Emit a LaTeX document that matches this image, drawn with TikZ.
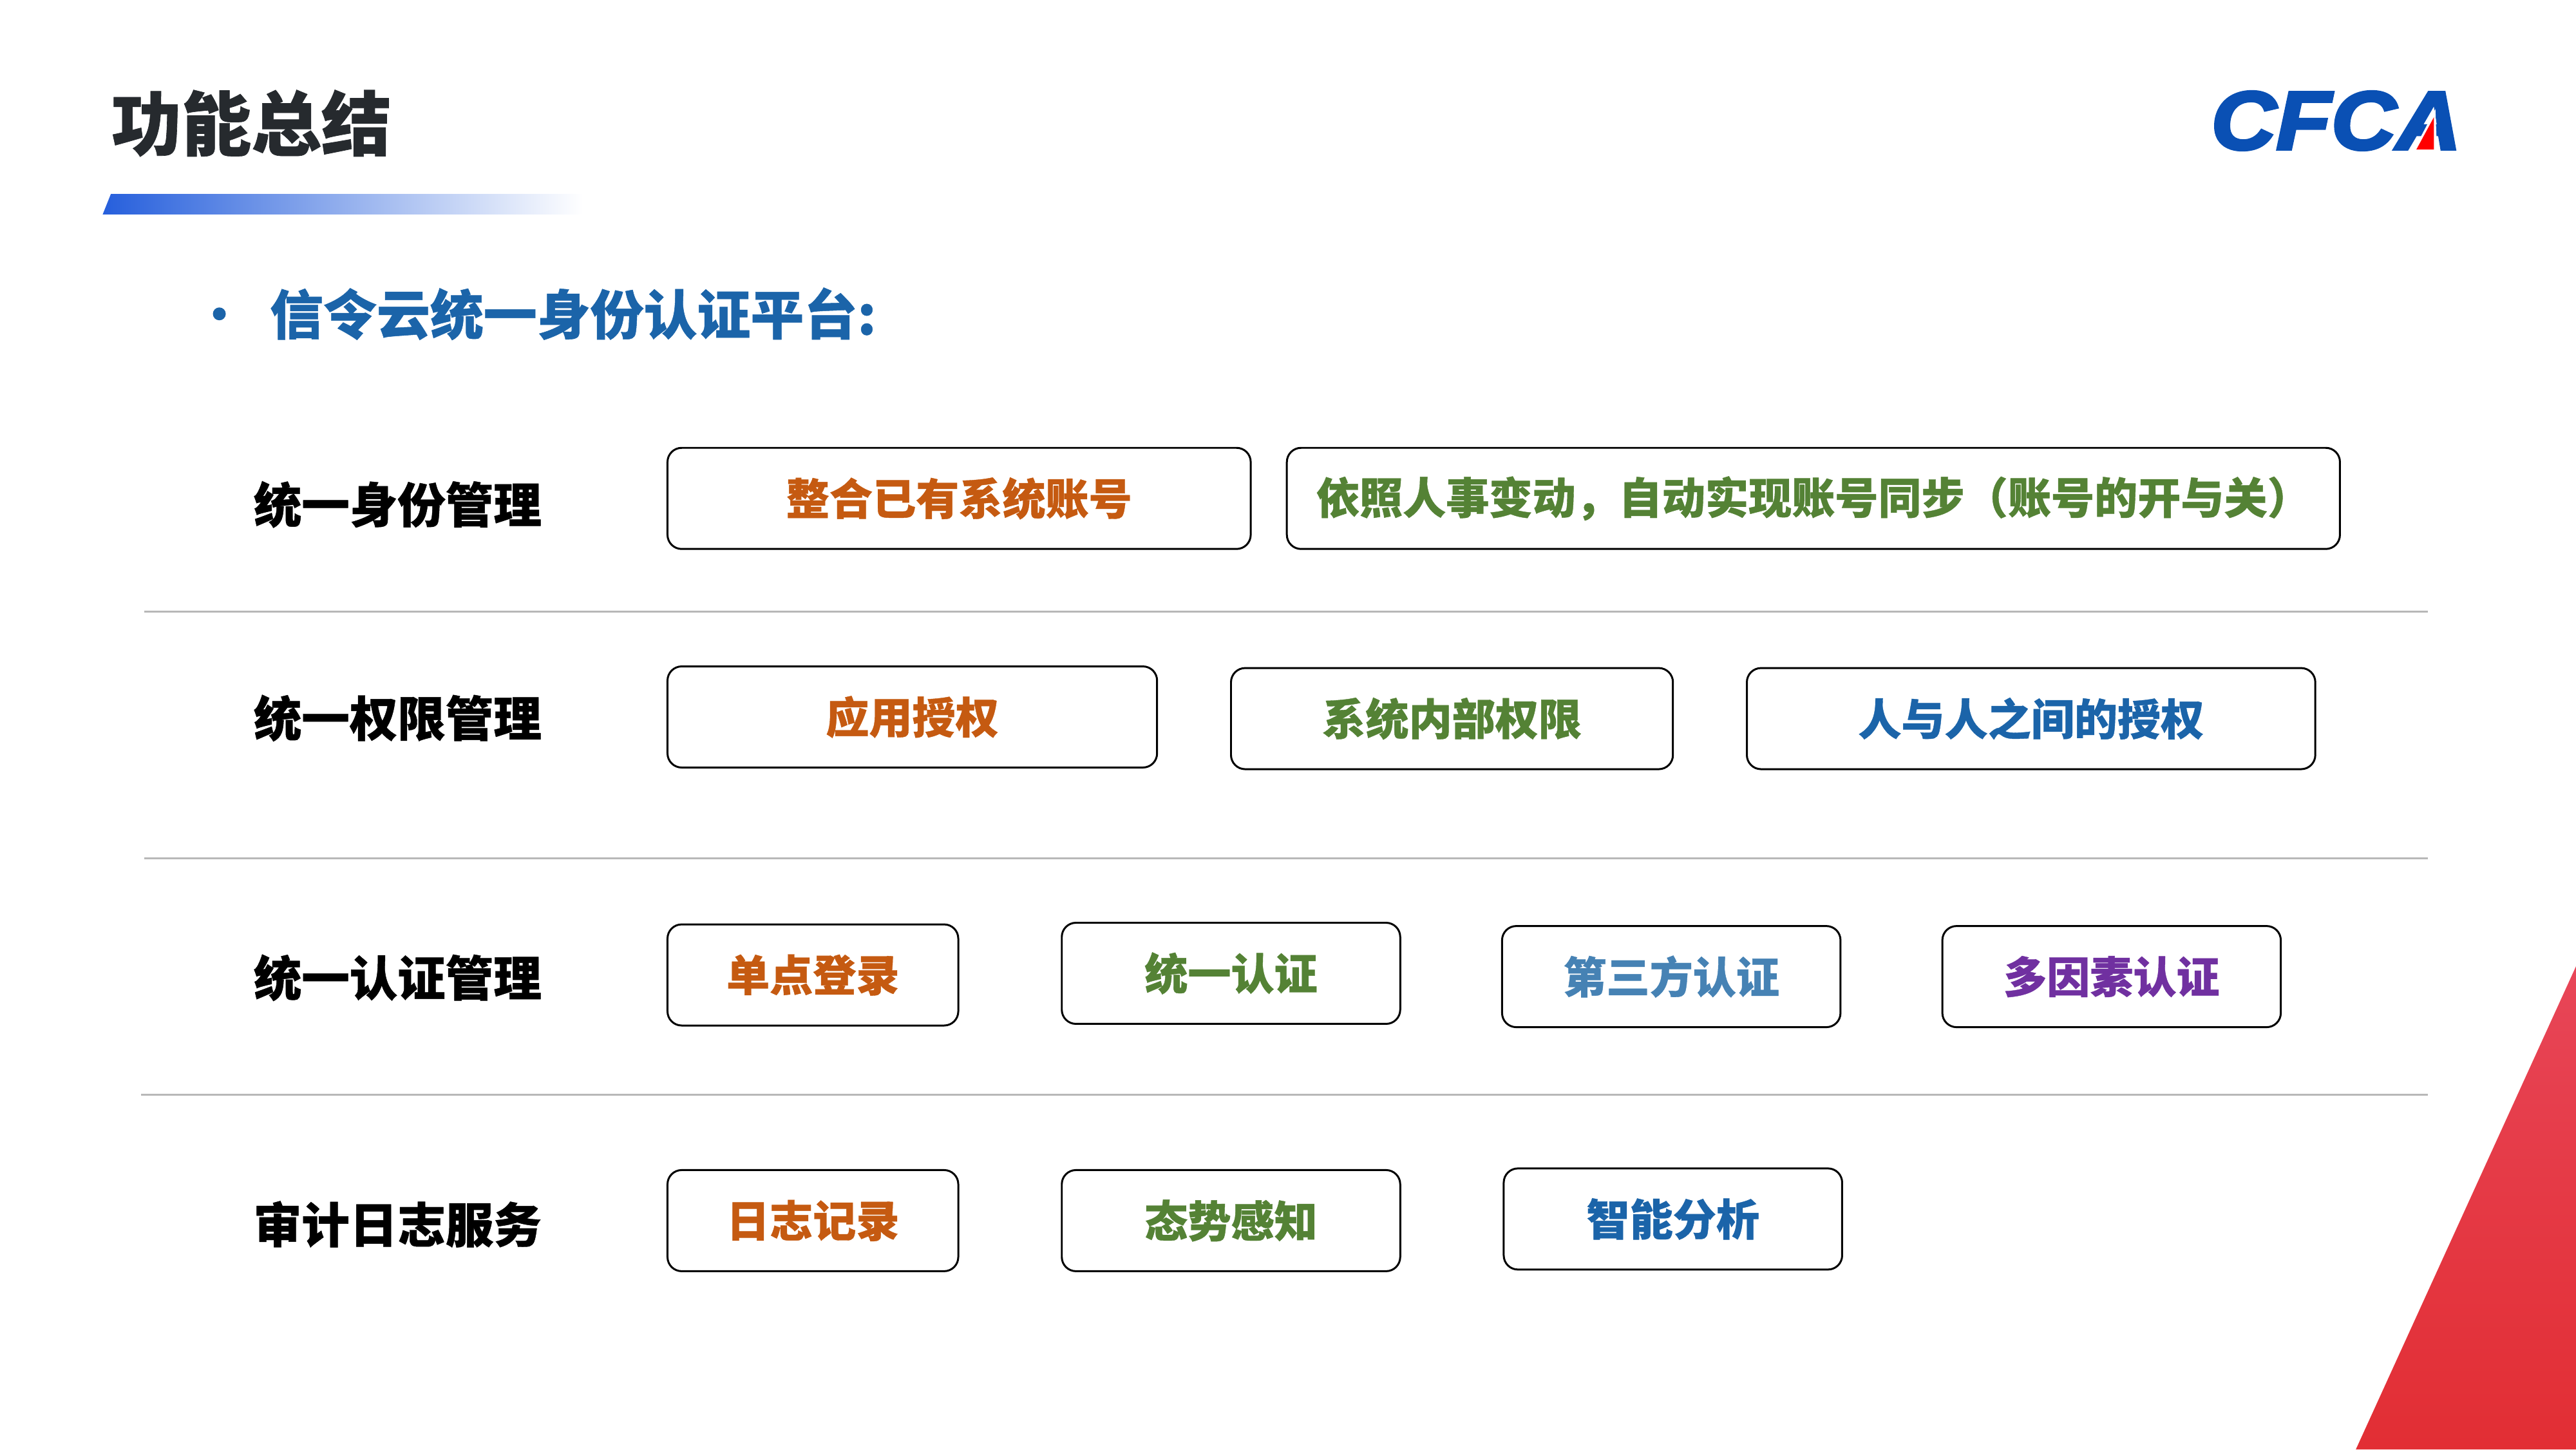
\documentclass[tikz,border=0pt]{standalone}
\usepackage{fontspec}
\setmainfont{Noto Sans CJK SC}[BoldFeatures={FakeBold=0.6}]
\newfontfamily\logofont[FakeBold=3.5,FakeStretch=1.09]{Liberation Sans}
\definecolor{cforange}{HTML}{C55A11}
\definecolor{cfgreen}{HTML}{548235}
\definecolor{cfblue}{HTML}{1B64A9}
\definecolor{cfsteel}{HTML}{4682B4}
\definecolor{cfpurple}{HTML}{7030A0}
\definecolor{cflogo}{HTML}{0A50B4}
\definecolor{cftitle}{HTML}{262A2E}
\definecolor{cfbar}{HTML}{265FDC}
\definecolor{cfredtop}{HTML}{E84658}
\definecolor{cfredbot}{HTML}{E22E34}
\tikzset{
	itembox/.style={draw=black,line width=0.85pt,rounded corners=0.22cm,minimum height=1.57cm,inner sep=0pt,font=\fontsize{19.1}{23}\bfseries\selectfont},
	rowlabel/.style={font=\fontsize{21.2}{25}\bfseries\selectfont,text=black},
	sepline/.style={draw=black!28,line width=0.8pt}
}
\begin{document}
\begin{tikzpicture}[x=0.0255102cm,y=-0.0255102cm]
	\useasboundingbox (0,0) rectangle (1568,882);
	\shade[top color=cfredtop,bottom color=cfredbot,middle color=cfredbot!55!cfredtop] (1568,588) -- (1568,882) -- (1434,882) -- cycle;
	\shade[left color=cfbar,right color=white] (67.5,118) -- (355,118) -- (355,130.5) -- (62.5,130.5) -- cycle;
	\node[font=\fontsize{30.9}{36}\bfseries\selectfont,text=cftitle] (title) at (153,75) {功能总结};
	\node[font=\logofont\fontsize{36.5}{40}\bfseries\itshape\selectfont,text=cflogo,inner sep=0pt] (logo) at (1422,73.5) {CFCA};
	\fill[white] (1482.4,66.3) -- (1483.4,92) -- (1468.9,92) -- cycle;
	\fill[red] (1481.5,71.3) -- (1481.5,91) -- (1470.8,91) -- cycle;
	\node[circle,fill=cfblue,inner sep=0pt,minimum size=0.2cm] (dot) at (133.5,191) {};
	\node[anchor=west,inner sep=0pt,text=cfblue,font=\fontsize{23.6}{28}\bfseries\selectfont] (head) at (164,191) {信令云统一身份认证平台:};
	\node[rowlabel] (rowa) at (242,307) {统一身份管理};
	\node[rowlabel] (rowb) at (242,437) {统一权限管理};
	\node[rowlabel] (rowc) at (242,595) {统一认证管理};
	\node[rowlabel] (rowd) at (242,745) {审计日志服务};
	\foreach \nm/\cx/\cy/\w/\col/\txt in {
		aa/583.8/303.3/355/cforange/整合已有系统账号,
		ab/1103.8/303.3/641/cfgreen/依照人事变动，自动实现账号同步（账号的开与关）,
		ba/555.3/436.3/298/cforange/应用授权,
		bb/883.8/437.3/269/cfgreen/系统内部权限,
		bc/1236.3/437.3/346/cfblue/人与人之间的授权,
		ca/494.8/593.3/177/cforange/单点登录,
		cb/749.3/592.3/206/cfgreen/统一认证,
		cc/1017.3/594.3/206/cfsteel/第三方认证,
		cd/1285.3/594.3/206/cfpurple/多因素认证,
		da/494.8/742.8/177/cforange/日志记录,
		db/749.3/742.8/206/cfgreen/态势感知,
		dc/1018.3/741.8/206/cfblue/智能分析}
		\node[itembox,text=\col,minimum width=\w*0.0255102cm] (box\nm) at (\cx,\cy) {\txt};
	\draw[sepline] (88,372.3) -- (1478,372.3);
	\draw[sepline] (88,522.3) -- (1478,522.3);
	\draw[sepline] (86,666.3) -- (1478,666.3);
\end{tikzpicture}
\end{document}
